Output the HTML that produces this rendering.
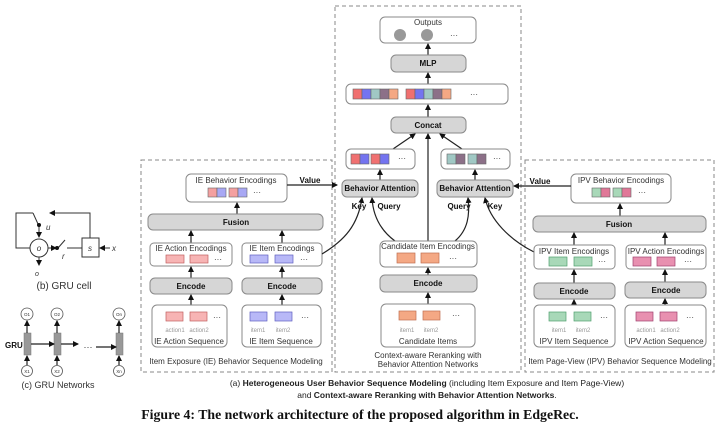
<!DOCTYPE html>
<html><head><meta charset="utf-8"><style>
html,body{margin:0;padding:0;background:#fff;}
svg{display:block;font-family:"Liberation Sans",sans-serif;}
.g{fill:#d6d6d6;stroke:#8a8a8a;stroke-width:1;}
.w{fill:#fff;stroke:#8a8a8a;stroke-width:1;}
.d{fill:none;stroke:#888;stroke-width:1;stroke-dasharray:4,3;}
.l{stroke:#222;stroke-width:1.2;fill:none;}
.t{font-size:8px;fill:#333;text-anchor:middle;}
.b{font-size:8px;font-weight:bold;fill:#111;text-anchor:middle;}
.s{font-size:6px;fill:#999;text-anchor:middle;}
</style></head><body>
<svg width="720" height="430" viewBox="0 0 720 430" xmlns="http://www.w3.org/2000/svg">
<defs><marker id="a" markerWidth="6" markerHeight="6" refX="5" refY="3" orient="auto" markerUnits="userSpaceOnUse"><path d="M0,0 L6,3 L0,6z" fill="#111"/></marker></defs>

<rect class="d" x="141" y="160" width="191" height="212"/>
<rect class="d" x="335" y="6" width="186" height="366"/>
<rect class="d" x="525" y="160" width="189" height="212"/>

<!-- LEFT IE -->
<rect class="w" x="186" y="174" width="101" height="28" rx="5"/>
<text class="t" x="236" y="183">IE Behavior Encodings</text>
<rect x="208" y="188" width="9" height="9" fill="#f4a0a0" stroke="#666" stroke-width=".6"/><rect x="217" y="188" width="9" height="9" fill="#a8a8f4" stroke="#666" stroke-width=".6"/>
<rect x="229" y="188" width="9" height="9" fill="#f4a0a0" stroke="#666" stroke-width=".6"/><rect x="238" y="188" width="9" height="9" fill="#a8a8f4" stroke="#666" stroke-width=".6"/>
<text class="t" x="257" y="195">···</text>
<line class="l" x1="287" y1="185" x2="337" y2="185" marker-end="url(#a)"/>
<text class="b" x="310" y="183">Value</text>
<line class="l" x1="237" y1="214" x2="237" y2="203" marker-end="url(#a)"/>
<rect class="g" x="148" y="214" width="175" height="16" rx="5"/>
<text class="b" x="236" y="225">Fusion</text>
<line class="l" x1="191" y1="243" x2="191" y2="231" marker-end="url(#a)"/>
<line class="l" x1="282" y1="243" x2="282" y2="231" marker-end="url(#a)"/>
<rect class="w" x="150" y="243" width="82" height="23" rx="4"/>
<text class="t" x="191" y="251">IE Action Encodings</text>
<rect x="166" y="255" width="18" height="8" fill="#f7b4b4" stroke="#c06060" stroke-width=".7"/><rect x="190" y="255" width="18" height="8" fill="#f7b4b4" stroke="#c06060" stroke-width=".7"/>
<text class="t" x="218" y="262">···</text>
<rect class="w" x="242" y="243" width="80" height="23" rx="4"/>
<text class="t" x="282" y="251">IE Item Encodings</text>
<rect x="250" y="255" width="18" height="8" fill="#b8b8f7" stroke="#6060c0" stroke-width=".7"/><rect x="275" y="255" width="18" height="8" fill="#b8b8f7" stroke="#6060c0" stroke-width=".7"/>
<text class="t" x="304" y="262">···</text>
<line class="l" x1="191" y1="278" x2="191" y2="267" marker-end="url(#a)"/>
<line class="l" x1="282" y1="278" x2="282" y2="267" marker-end="url(#a)"/>
<rect class="g" x="150" y="278" width="82" height="16" rx="5"/><text class="b" x="191" y="289">Encode</text>
<rect class="g" x="242" y="278" width="80" height="16" rx="5"/><text class="b" x="282" y="289">Encode</text>
<line class="l" x1="191" y1="305" x2="191" y2="295" marker-end="url(#a)"/>
<line class="l" x1="282" y1="305" x2="282" y2="295" marker-end="url(#a)"/>
<rect class="w" x="152" y="305" width="75" height="42" rx="5"/>
<rect x="166" y="312" width="17" height="9" fill="#f7b4b4" stroke="#c06060" stroke-width=".7"/><rect x="190" y="312" width="17" height="9" fill="#f7b4b4" stroke="#c06060" stroke-width=".7"/>
<text class="t" x="217" y="320">···</text>
<text class="s" x="175" y="332">action1</text><text class="s" x="199" y="332">action2</text>
<text class="t" x="189" y="344">IE Action Sequence</text>
<rect class="w" x="242" y="305" width="79" height="42" rx="5"/>
<rect x="250" y="312" width="17" height="9" fill="#b8b8f7" stroke="#6060c0" stroke-width=".7"/><rect x="275" y="312" width="17" height="9" fill="#b8b8f7" stroke="#6060c0" stroke-width=".7"/>
<text class="t" x="305" y="320">···</text>
<text class="s" x="258" y="332">item1</text><text class="s" x="283" y="332">item2</text>
<text class="t" x="281" y="344">IE Item Sequence</text>
<text class="t" x="236" y="364">Item Exposure (IE) Behavior Sequence Modeling</text>

<!-- CENTER -->
<rect class="w" x="380" y="17" width="96" height="26" rx="5"/>
<text class="t" x="428" y="25">Outputs</text>
<circle cx="400" cy="35" r="6" fill="#999"/><circle cx="427" cy="35" r="6" fill="#999"/>
<text class="t" x="454" y="38">···</text>
<line class="l" x1="428" y1="55" x2="428" y2="44" marker-end="url(#a)"/>
<rect class="g" x="391" y="55" width="75" height="17" rx="5"/><text class="b" x="428" y="66">MLP</text>
<line class="l" x1="428" y1="84" x2="428" y2="73" marker-end="url(#a)"/>
<rect class="w" x="346" y="84" width="162" height="20" rx="5"/>
<g stroke="#666" stroke-width=".6">
<rect x="353" y="89" width="9" height="10" fill="#f07070"/><rect x="362" y="89" width="9" height="10" fill="#7474f0"/><rect x="371" y="89" width="9" height="10" fill="#a0c8c4"/><rect x="380" y="89" width="9" height="10" fill="#8c7088"/><rect x="389" y="89" width="9" height="10" fill="#f4a884"/>
<rect x="406" y="89" width="9" height="10" fill="#f07070"/><rect x="415" y="89" width="9" height="10" fill="#7474f0"/><rect x="424" y="89" width="9" height="10" fill="#a0c8c4"/><rect x="433" y="89" width="9" height="10" fill="#8c7088"/><rect x="442" y="89" width="9" height="10" fill="#f4a884"/>
</g>
<text class="t" x="474" y="97">···</text>
<line class="l" x1="428" y1="117" x2="428" y2="105" marker-end="url(#a)"/>
<rect class="g" x="391" y="117" width="75" height="16" rx="5"/><text class="b" x="428" y="128">Concat</text>
<line class="l" x1="393" y1="149" x2="415" y2="134" marker-end="url(#a)"/>
<line class="l" x1="462" y1="149" x2="440" y2="134" marker-end="url(#a)"/>
<line class="l" x1="428" y1="241" x2="428" y2="134" marker-end="url(#a)"/>
<rect class="w" x="346" y="149" width="69" height="20" rx="5"/>
<g stroke="#666" stroke-width=".6">
<rect x="351" y="154" width="9" height="10" fill="#f07070"/><rect x="360" y="154" width="9" height="10" fill="#7474f0"/>
<rect x="371" y="154" width="9" height="10" fill="#f07070"/><rect x="380" y="154" width="9" height="10" fill="#7474f0"/>
</g><text class="t" x="402" y="161">···</text>
<rect class="w" x="441" y="149" width="69" height="20" rx="5"/>
<g stroke="#666" stroke-width=".6">
<rect x="447" y="154" width="9" height="10" fill="#a0c8c4"/><rect x="456" y="154" width="9" height="10" fill="#8c7088"/>
<rect x="468" y="154" width="9" height="10" fill="#a0c8c4"/><rect x="477" y="154" width="9" height="10" fill="#8c7088"/>
</g><text class="t" x="497" y="161">···</text>
<line class="l" x1="380" y1="180" x2="380" y2="170" marker-end="url(#a)"/>
<line class="l" x1="475" y1="180" x2="475" y2="170" marker-end="url(#a)"/>
<rect class="g" x="342" y="180" width="76" height="17" rx="5"/><text class="b" x="380" y="191">Behavior Attention</text>
<rect class="g" x="437" y="180" width="76" height="17" rx="5"/><text class="b" x="475" y="191">Behavior Attention</text>
<text class="b" x="359" y="209">Key</text><text class="b" x="389" y="209">Query</text>
<text class="b" x="459" y="209">Query</text><text class="b" x="495" y="209">Key</text>
<path class="l" d="M322,254 C345,240 358,225 362,198" marker-end="url(#a)"/>
<path class="l" d="M395,241 C380,230 373,215 372,198" marker-end="url(#a)"/>
<path class="l" d="M455,241 C468,230 470,215 468,198" marker-end="url(#a)"/>
<path class="l" d="M534,252 C510,240 490,220 485,198" marker-end="url(#a)"/>
<rect class="w" x="380" y="241" width="97" height="26" rx="5"/>
<text class="t" x="428" y="249">Candidate Item Encodings</text>
<rect x="397" y="253" width="18" height="10" fill="#f4a884" stroke="#c07050" stroke-width=".7"/><rect x="421" y="253" width="18" height="10" fill="#f4a884" stroke="#c07050" stroke-width=".7"/>
<text class="t" x="453" y="261">···</text>
<line class="l" x1="428" y1="275" x2="428" y2="268" marker-end="url(#a)"/>
<rect class="g" x="380" y="275" width="97" height="17" rx="5"/><text class="b" x="428" y="286">Encode</text>
<line class="l" x1="428" y1="304" x2="428" y2="293" marker-end="url(#a)"/>
<rect class="w" x="381" y="304" width="94" height="43" rx="5"/>
<rect x="399" y="311" width="17" height="9" fill="#f4a884" stroke="#c07050" stroke-width=".7"/><rect x="423" y="311" width="17" height="9" fill="#f4a884" stroke="#c07050" stroke-width=".7"/>
<text class="t" x="456" y="318">···</text>
<text class="s" x="407" y="332">item1</text><text class="s" x="431" y="332">item2</text>
<text class="t" x="428" y="344">Candidate Items</text>
<text class="t" x="428" y="358">Context-aware Reranking with</text>
<text class="t" x="428" y="367">Behavior Attention Networks</text>

<!-- RIGHT IPV -->
<rect class="w" x="571" y="174" width="100" height="29" rx="5"/>
<text class="t" x="621" y="183">IPV Behavior Encodings</text>
<g stroke="#666" stroke-width=".6">
<rect x="592" y="188" width="9" height="9" fill="#a8d8b8"/><rect x="601" y="188" width="9" height="9" fill="#e07898"/>
<rect x="613" y="188" width="9" height="9" fill="#a8d8b8"/><rect x="622" y="188" width="9" height="9" fill="#e07898"/>
</g><text class="t" x="642" y="195">···</text>
<line class="l" x1="571" y1="186" x2="514" y2="186" marker-end="url(#a)"/>
<text class="b" x="540" y="184">Value</text>
<line class="l" x1="620" y1="216" x2="620" y2="204" marker-end="url(#a)"/>
<rect class="g" x="533" y="216" width="173" height="16" rx="5"/><text class="b" x="619" y="227">Fusion</text>
<line class="l" x1="574" y1="245" x2="574" y2="233" marker-end="url(#a)"/>
<line class="l" x1="665" y1="245" x2="665" y2="233" marker-end="url(#a)"/>
<rect class="w" x="534" y="245" width="81" height="24" rx="4"/>
<text class="t" x="574" y="254">IPV Item Encodings</text>
<rect x="549" y="257" width="18" height="9" fill="#a8d8b8" stroke="#50a070" stroke-width=".7"/><rect x="574" y="257" width="18" height="9" fill="#a8d8b8" stroke="#50a070" stroke-width=".7"/>
<text class="t" x="602" y="264">···</text>
<rect class="w" x="626" y="245" width="80" height="24" rx="4"/>
<text class="t" x="666" y="254">IPV Action Encodings</text>
<rect x="633" y="257" width="18" height="9" fill="#e890b0" stroke="#a04070" stroke-width=".7"/><rect x="657" y="257" width="18" height="9" fill="#e890b0" stroke="#a04070" stroke-width=".7"/>
<text class="t" x="688" y="264">···</text>
<line class="l" x1="574" y1="284" x2="574" y2="270" marker-end="url(#a)"/>
<line class="l" x1="665" y1="283" x2="665" y2="270" marker-end="url(#a)"/>
<rect class="g" x="534" y="283" width="81" height="16" rx="5"/><text class="b" x="574" y="294">Encode</text>
<rect class="g" x="625" y="282" width="81" height="16" rx="5"/><text class="b" x="666" y="293">Encode</text>
<line class="l" x1="574" y1="305" x2="574" y2="300" marker-end="url(#a)"/>
<line class="l" x1="665" y1="305" x2="665" y2="299" marker-end="url(#a)"/>
<rect class="w" x="534" y="305" width="81" height="42" rx="5"/>
<rect x="549" y="312" width="17" height="9" fill="#a8d8b8" stroke="#50a070" stroke-width=".7"/><rect x="574" y="312" width="17" height="9" fill="#a8d8b8" stroke="#50a070" stroke-width=".7"/>
<text class="t" x="604" y="320">···</text>
<text class="s" x="559" y="332">item1</text><text class="s" x="583" y="332">item2</text>
<text class="t" x="574" y="344">IPV Item Sequence</text>
<rect class="w" x="625" y="305" width="81" height="42" rx="5"/>
<rect x="636" y="312" width="17" height="9" fill="#e890b0" stroke="#a04070" stroke-width=".7"/><rect x="660" y="312" width="17" height="9" fill="#e890b0" stroke="#a04070" stroke-width=".7"/>
<text class="t" x="690" y="320">···</text>
<text class="s" x="646" y="332">action1</text><text class="s" x="670" y="332">action2</text>
<text class="t" x="666" y="344">IPV Action Sequence</text>
<text class="t" x="620" y="364">Item Page-View (IPV) Behavior Sequence Modeling</text>

<!-- GRU cell -->
<g stroke="#333" stroke-width="1" fill="none">
<path d="M31,248 H16 V213 H33"/>
<path d="M90,238 V213 H50" marker-end="url(#a)"/>
<line x1="33" y1="213" x2="38" y2="224"/>
<line x1="39" y1="226" x2="39" y2="237" marker-end="url(#a)"/>
<circle cx="39" cy="248" r="9" fill="#fff"/>
<line x1="48" y1="248" x2="56" y2="248" marker-end="url(#a)"/>
<line x1="58" y1="248" x2="65" y2="240"/>
<line x1="67" y1="248" x2="82" y2="248"/>
<rect x="82" y="238" width="17" height="19" fill="#fff"/>
<line x1="110" y1="248" x2="100" y2="248" marker-end="url(#a)"/>
<line x1="39" y1="257" x2="39" y2="265" marker-end="url(#a)"/>
</g>
<circle cx="39" cy="225" r="2" fill="#111"/><circle cx="57" cy="248" r="2" fill="#111"/>
<text x="46" y="230" font-size="8" font-style="italic" fill="#333">u</text>
<text x="39" y="251" font-size="8" font-style="italic" fill="#333" text-anchor="middle">o</text>
<text x="62" y="259" font-size="8" font-style="italic" fill="#333">r</text>
<text x="90" y="251" font-size="8" font-style="italic" fill="#333" text-anchor="middle">s</text>
<text x="112" y="251" font-size="8" font-style="italic" fill="#333">x</text>
<text x="37" y="276" font-size="7" font-style="italic" fill="#333" text-anchor="middle">o</text>
<text x="64" y="289" font-size="10" fill="#333" text-anchor="middle">(b) GRU cell</text>

<!-- GRU networks -->
<g stroke="#555" stroke-width=".8" fill="#fff">
<circle cx="27" cy="314" r="6"/><circle cx="57" cy="314" r="6"/><circle cx="119" cy="314" r="6"/>
<circle cx="27" cy="371" r="5.5"/><circle cx="57" cy="371" r="5.5"/><circle cx="119" cy="371" r="5.5"/>
</g>
<g font-size="4.5" fill="#333" text-anchor="middle"><text x="27" y="316">O1</text><text x="57" y="316">O2</text><text x="119" y="316">On</text><text x="27" y="373">X1</text><text x="57" y="373">X2</text><text x="119" y="373">Xn</text></g>
<g fill="#999" stroke="#777" stroke-width=".5"><rect x="24" y="333" width="7" height="22"/><rect x="54" y="333" width="7" height="22"/><rect x="116" y="333" width="7" height="22"/></g>
<g class="l" stroke-width="1">
<line x1="27" y1="333" x2="27" y2="321" marker-end="url(#a)"/><line x1="57" y1="333" x2="57" y2="321" marker-end="url(#a)"/><line x1="119" y1="333" x2="119" y2="321" marker-end="url(#a)"/>
<line x1="27" y1="365" x2="27" y2="356" marker-end="url(#a)"/><line x1="57" y1="365" x2="57" y2="356" marker-end="url(#a)"/><line x1="119" y1="365" x2="119" y2="356" marker-end="url(#a)"/>
<line x1="31" y1="344" x2="54" y2="344" marker-end="url(#a)"/><line x1="61" y1="344" x2="78" y2="344" marker-end="url(#a)"/><line x1="96" y1="347" x2="116" y2="347" marker-end="url(#a)"/>
</g>
<text x="88" y="350" font-size="9" fill="#333" text-anchor="middle">···</text>
<text x="5" y="348" font-size="8" font-weight="bold" fill="#111">GRU</text>
<text x="58" y="388" font-size="9" fill="#333" text-anchor="middle">(c) GRU Networks</text>

<!-- caption -->
<text x="427" y="386" font-size="8.5" fill="#222" text-anchor="middle">(a) <tspan font-weight="bold">Heterogeneous User Behavior Sequence Modeling</tspan> (including Item Exposure and Item Page-View)</text>
<text x="427" y="398" font-size="8.5" fill="#222" text-anchor="middle">and <tspan font-weight="bold">Context-aware Reranking with Behavior Attention Networks</tspan>.</text>
<text x="360" y="419" font-size="13.8" font-weight="bold" fill="#111" text-anchor="middle" font-family="Liberation Serif, serif">Figure 4: The network architecture of the proposed algorithm in EdgeRec.</text>
</svg>
</body></html>
